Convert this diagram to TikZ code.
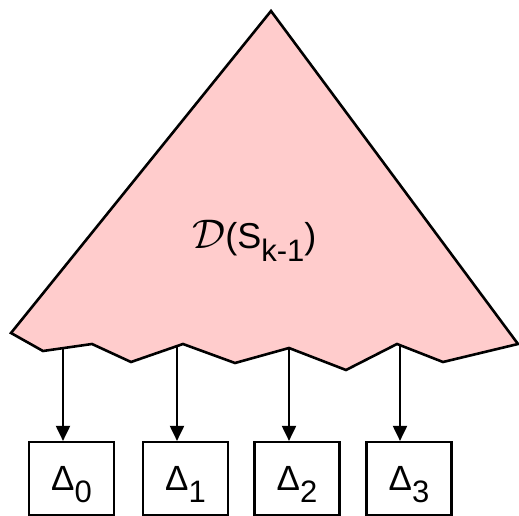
\documentclass[tikz,border=0pt]{standalone}
\usepackage{fix-cm}
\usepackage{graphicx}
\usepackage{fontspec}
\setmainfont{Liberation Sans}
\usetikzlibrary{arrows.meta}
\definecolor{treepink}{RGB}{255,204,204}
\tikzset{
  leafbox/.style={draw=black, line width=2.2pt, minimum width=85pt, minimum height=73pt, inner sep=0pt, font=\fontsize{35}{36}\selectfont, text depth=0pt},
  link/.style={line width=2pt, -{Triangle[length=15pt,width=14pt]}},
  treeshape/.style={fill=treepink, draw=black, line width=2.6pt, line join=miter}
}
\newcommand{\dsub}[1]{\raisebox{-12pt}{\fontsize{31}{31}\selectfont #1}}
\begin{document}
\begin{tikzpicture}[x=1pt,y=-1pt]
\useasboundingbox (0,0) rectangle (519,516);
\draw[treeshape] (271,11) -- (518,344) -- (443,362) -- (397,344) -- (346,370) -- (289,348) -- (235,363) -- (183,344) -- (131,362) -- (92,344) -- (43,351) -- (11,333) -- cycle;
\node[font=\fontsize{36}{36}\selectfont, anchor=base west, inner sep=0pt] (label) at (192,248) {\scalebox{1.15}{$\mathcal{D}$}(S\raisebox{-13pt}{\fontsize{31}{31}\selectfont k-1})};
\coordinate (s0) at (63,348);
\coordinate (s1) at (177,346);
\coordinate (s2) at (289,348);
\coordinate (s3) at (400,345);
\node[leafbox] (d0) at (71.5,478.5) {Δ\dsub{0}};
\node[leafbox] (d1) at (185.5,478.5) {Δ\dsub{1}};
\node[leafbox] (d2) at (297,478.5) {Δ\dsub{2}};
\node[leafbox] (d3) at (409,478.5) {Δ\dsub{3}};
\draw[link] (s0) -- (s0 |- d0.north);
\draw[link] (s1) -- (s1 |- d1.north);
\draw[link] (s2) -- (s2 |- d2.north);
\draw[link] (s3) -- (s3 |- d3.north);
\end{tikzpicture}
\end{document}
